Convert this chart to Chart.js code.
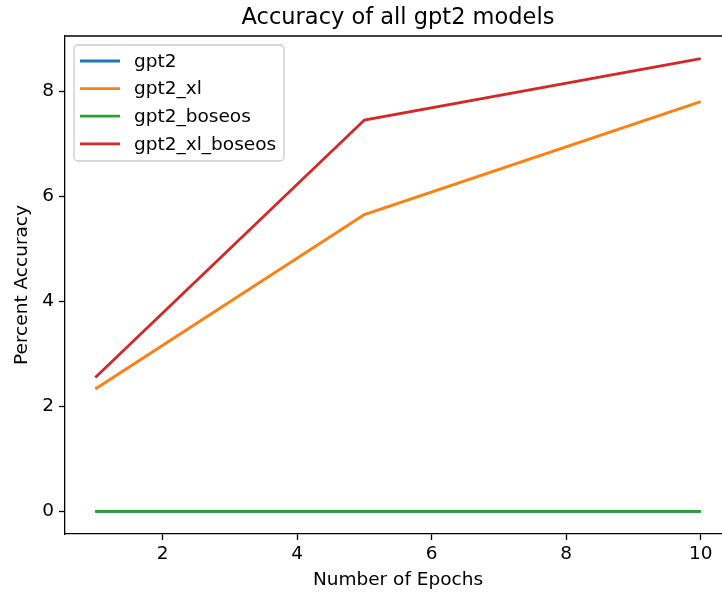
<!DOCTYPE html>
<html>
<head>
<meta charset="utf-8">
<script src="https://cdn.jsdelivr.net/npm/chart.js@4.4.1/dist/chart.umd.min.js"></script>
<style>
  html, body { margin: 0; padding: 0; overflow: hidden; background: #fff; }
  #wrap { width: 745px; height: 594px; }
</style>
</head>
<body>
<div id="wrap"><canvas id="myChart" width="745" height="594"></canvas></div>
<script>
const epochs = [1, 5, 10];
const seriesNames = ["gpt2", "gpt2_xl", "gpt2_boseos", "gpt2_xl_boseos"];
const gpt2 = [0, 0, 0];
const gpt2Xl = [2.33, 5.65, 7.8];
const gpt2Boseos = [0, 0, 0];
const gpt2XlBoseos = [2.55, 7.45, 8.62];
const xTicks = [2, 4, 6, 8, 10];
const yTicks = [0, 2, 4, 6, 8];
const chartTitle = "Accuracy of all gpt2 models";

const colors = ["#1f77b4", "#ff7f0e", "#2ca02c", "#d62728"];
const FONT = "'DejaVu Sans', sans-serif";
const TXT = 18.5;

function toPoints(values) {
  return values.map((v, i) => ({ x: epochs[i], y: v }));
}

const allSeries = [gpt2, gpt2Xl, gpt2Boseos, gpt2XlBoseos];

// верхняя рамка + заголовок по центру области осей (как в matplotlib)
const framePlugin = {
  id: "frame",
  afterDraw(chart) {
    const { ctx, chartArea } = chart;
    ctx.save();
    ctx.strokeStyle = "#000";
    ctx.lineWidth = 1.3;
    ctx.beginPath();
    ctx.moveTo(chartArea.left, chartArea.top);
    ctx.lineTo(chartArea.right, chartArea.top);
    ctx.stroke();
    ctx.fillStyle = "#000";
    ctx.font = "22.5px " + FONT;
    ctx.textAlign = "center";
    ctx.textBaseline = "middle";
    ctx.fillText(chartTitle, (chartArea.left + chartArea.right) / 2, 18);
    ctx.restore();
  },
};

// легенда внутри области графика
const innerLegend = {
  id: "innerLegend",
  afterDraw(chart) {
    const { ctx, chartArea } = chart;
    const x0 = chartArea.left + 9;
    const y0 = chartArea.top + 9;
    const w = 210;
    const h = 116;
    ctx.save();
    ctx.fillStyle = "rgba(255,255,255,0.8)";
    ctx.strokeStyle = "#cccccc";
    ctx.lineWidth = 1.3;
    ctx.beginPath();
    ctx.roundRect(x0, y0, w, h, 4);
    ctx.fill();
    ctx.stroke();
    ctx.font = TXT + "px " + FONT;
    ctx.textBaseline = "middle";
    chart.data.datasets.forEach((ds, i) => {
      const y = y0 + 16 + i * 27.6;
      ctx.strokeStyle = ds.borderColor;
      ctx.lineWidth = 2.8;
      ctx.beginPath();
      ctx.moveTo(x0 + 6, y);
      ctx.lineTo(x0 + 46, y);
      ctx.stroke();
      ctx.fillStyle = "#000";
      ctx.fillText(ds.label, x0 + 60, y + 1);
    });
    ctx.restore();
  },
};

const ctx = document.getElementById("myChart").getContext("2d");

const config = {
  type: "line",
  data: {
    datasets: seriesNames.map((name, i) => ({
      label: name,
      data: toPoints(allSeries[i]),
      borderColor: colors[i],
      backgroundColor: colors[i],
      borderWidth: 2.8,
      pointRadius: 0,
      tension: 0,
      fill: false,
      order: 4 - i,
    })),
  },
  options: {
    responsive: false,
    animation: false,
    layout: { padding: { left: 0, right: 14, top: 36, bottom: 0 } },
    plugins: {
      legend: { display: false },
      tooltip: { enabled: false },
      title: { display: false },
    },
    scales: {
      x: {
        type: "linear",
        min: 0.55,
        max: 10.45,
        afterBuildTicks(scale) {
          scale.ticks = xTicks.map(v => ({ value: v }));
        },
        afterFit(scale) {
          scale.height = 60;
        },
        grid: {
          drawOnChartArea: false,
          drawTicks: true,
          tickLength: 6,
          tickWidth: 1.3,
          color: "#000",
        },
        border: { display: true, color: "#000", width: 1.3 },
        ticks: {
          color: "#000",
          padding: 3,
          maxRotation: 0,
          font: { family: FONT, size: TXT },
        },
        title: {
          display: true,
          text: "Number of Epochs",
          color: "#000",
          font: { family: FONT, size: TXT },
          padding: { top: 0, bottom: 3 },
        },
      },
      y: {
        min: -0.431,
        max: 9.05,
        afterBuildTicks(scale) {
          scale.ticks = yTicks.map(v => ({ value: v }));
        },
        afterFit(scale) {
          scale.width = 65;
        },
        grid: {
          drawOnChartArea: false,
          drawTicks: true,
          tickLength: 6,
          tickWidth: 1.3,
          color: "#000",
        },
        border: { display: true, color: "#000", width: 1.3 },
        ticks: {
          color: "#000",
          padding: 5,
          font: { family: FONT, size: TXT },
        },
        title: {
          display: true,
          text: "Percent Accuracy",
          color: "#000",
          font: { family: FONT, size: TXT },
          padding: { top: 11, bottom: 0 },
        },
      },
    },
  },
  plugins: [framePlugin, innerLegend],
};

const accuracyChart = new Chart(ctx, config);
</script>
</body>
</html>
